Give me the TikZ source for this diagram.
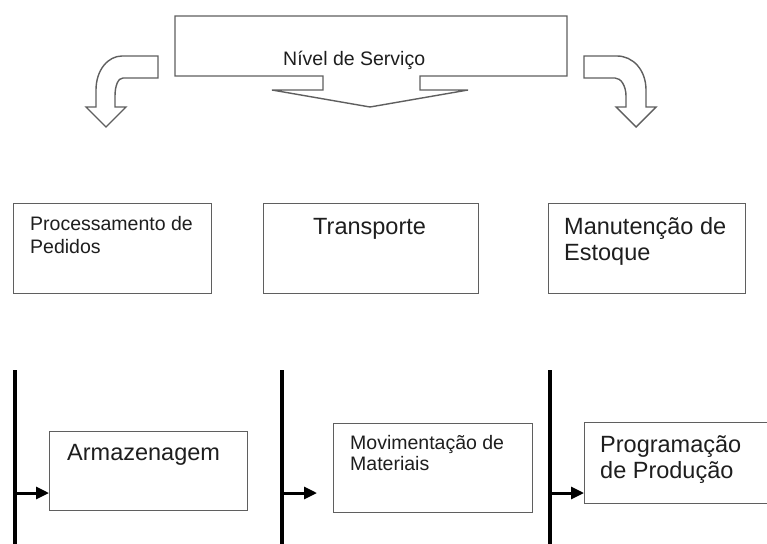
\documentclass[tikz,border=0pt]{standalone}
\usepackage{fontspec}
\setmainfont{Liberation Sans}
\usetikzlibrary{arrows.meta}
\definecolor{edge}{RGB}{95,95,95}
\definecolor{ink}{RGB}{30,30,30}
\tikzset{
  box/.style={draw=edge, line width=1.4pt, rectangle, inner sep=0pt, anchor=north west},
  blockarrow/.style={draw=edge, line width=1.4pt, fill=white, line join=miter},
  small/.style={font=\fontsize{19.5}{23}\selectfont, text=ink, inner sep=0pt, anchor=base west},
  large/.style={font=\fontsize{23.5}{27}\selectfont, text=ink, inner sep=0pt, anchor=base west},
  rail/.style={line width=4pt, black},
  feed/.style={line width=3pt, black, -{Triangle[length=13pt,width=12pt]}},
}
\begin{document}
\begin{tikzpicture}[x=1pt,y=-1pt]
\useasboundingbox (0,0) rectangle (767,543);
\clip (0,0) rectangle (767,543);
\fill[white] (0,0) rectangle (767,543);

% top callout with down arrow
\draw[blockarrow] (175,16) -- (567,16) -- (567,76) -- (420,76) -- (420,90) -- (468,90)
  -- (370,107) -- (272,90) -- (323,90) -- (323,76) -- (175,76) -- cycle;
\node[small] (ns) at (283,65) {Nível de Serviço};

% left curved arrow
\draw[blockarrow] (158,56) -- (122,56) .. controls (108,56) and (96,70) .. (96,90)
  -- (96,107) -- (86,107) -- (106,127) -- (126,107) -- (115,107) -- (115,96)
  .. controls (115,86) and (118,78) .. (123,78) -- (158,78) -- cycle;

% right curved arrow
\draw[blockarrow] (584,56) -- (617,56) .. controls (633,56) and (646,70) .. (646,90)
  -- (646,107) -- (656,107) -- (636,127) -- (616,107) -- (626,107) -- (626,96)
  .. controls (626,86) and (621,78) .. (615,78) -- (584,78) -- cycle;

% middle row
\node[box, minimum width=198pt, minimum height=90pt] (b1) at (13,203) {};
\node[box, minimum width=215pt, minimum height=90pt] (b2) at (263,203) {};
\node[box, minimum width=197pt, minimum height=90pt] (b3) at (548,203) {};
\node[small] (t1a) at (30,230) {Processamento de};
\node[small] (t1b) at (30,253) {Pedidos};
\node[large] (t2) at (313,234) {Transporte};
\node[large] (t3a) at (564,234) {Manutenção de};
\node[large] (t3b) at (564,260) {Estoque};

% bottom row
\node[box, minimum width=198pt, minimum height=79pt] (a1) at (49,431) {};
\node[box, minimum width=199pt, minimum height=89pt] (a2) at (333,423) {};
\node[box, minimum width=191pt, minimum height=81pt] (a3) at (584,422) {};
\node[large] (u1) at (67,460) {Armazenagem};
\node[small] (u2a) at (350,449) {Movimentação de};
\node[small] (u2b) at (350,470) {Materiais};
\node[large] (u3a) at (600,452) {Programação};
\node[large] (u3b) at (600,478) {de Produção};

\coordinate (r1t) at (15,370); \coordinate (r1b) at (15,548);
\coordinate (r2t) at (282,370); \coordinate (r2b) at (282,548);
\coordinate (r3t) at (550,370); \coordinate (r3b) at (550,548);
\draw[rail] (r1t) -- (r1b);
\draw[rail] (r2t) -- (r2b);
\draw[rail] (r3t) -- (r3b);

\coordinate (s1) at (15,493);
\coordinate (s2) at (282,493);
\coordinate (e2) at (317,493);
\coordinate (s3) at (550,493);
\draw[feed] (s1) -- (s1 -| a1.west);
\draw[feed] (s2) -- (e2);
\draw[feed] (s3) -- (s3 -| a3.west);
\end{tikzpicture}
\end{document}
